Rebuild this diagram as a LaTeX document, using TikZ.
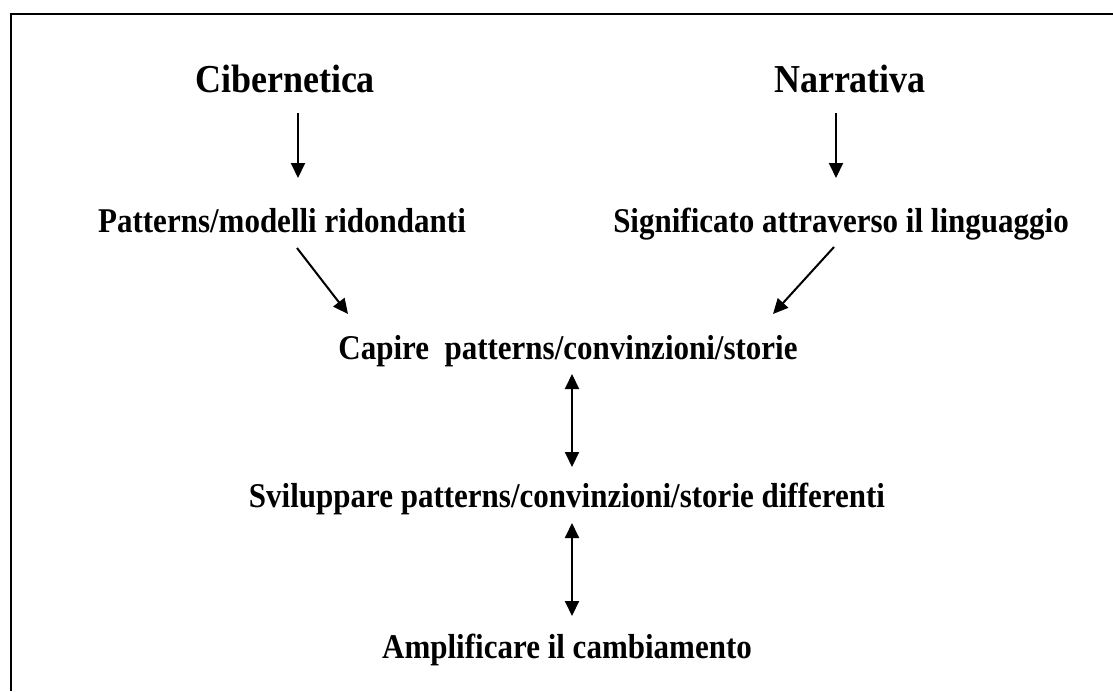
\documentclass[tikz,border=0pt]{standalone}
\usepackage{fontspec}
\setmainfont{Liberation Serif}
\usetikzlibrary{arrows.meta}
\newcommand{\tallA}[1]{\scalebox{1}[1.1]{#1}}
\newcommand{\tallB}[1]{\scalebox{1}[1.12]{#1}}
\tikzset{
  title/.style={anchor=base, inner sep=0pt, font=\bfseries\fontsize{36}{42}\selectfont},
  lbl/.style={anchor=base, inner sep=0pt, font=\bfseries\fontsize{31}{37}\selectfont},
  arr/.style={line width=2pt, -{Triangle[length=15pt,width=14pt]}},
  darr/.style={line width=2pt, {Triangle[length=15pt,width=14pt]}-{Triangle[length=15pt,width=14pt]}},
  frame/.style={line width=2pt}
}
\begin{document}
\begin{tikzpicture}[x=1pt,y=-1pt]
\useasboundingbox (0,0) rectangle (1113,691);
% frame
\coordinate (fr1) at (1113,13.5);
\coordinate (fr2) at (11,13.5);
\coordinate (fr3) at (11,691);
\draw[frame] (fr1) -- (fr2) -- (fr3);
% texts
\node[title] (cib) at (285,92) {\tallA{Cibernetica}};
\node[title] (nar) at (850,92) {\tallA{Narrativa}};
\node[lbl] (pat) at (282,232) {\tallB{Patterns/modelli ridondanti}};
\node[lbl] (sig) at (841,232) {\tallB{Significato attraverso il linguaggio}};
\node[lbl] (cap) at (568,359) {\tallB{Capire\ \ patterns/convinzioni/storie}};
\node[lbl] (svi) at (567,507) {\tallB{Sviluppare patterns/convinzioni/storie differenti}};
\node[lbl] (amp) at (567,658) {\tallB{Amplificare il cambiamento}};
% arrow endpoints
\coordinate (a1s) at (298,113);
\coordinate (a1e) at (298,178);
\coordinate (a2s) at (836,113);
\coordinate (a2e) at (836,178);
\coordinate (a3s) at (297,248);
\coordinate (a3e) at (348,314);
\coordinate (a4s) at (834,247);
\coordinate (a4e) at (773,314);
\coordinate (a5s) at (572,374);
\coordinate (a5e) at (572,467);
\coordinate (a6s) at (572,523);
\coordinate (a6e) at (572,616);
\draw[arr] (a1s) -- (a1e);
\draw[arr] (a2s) -- (a2e);
\draw[arr] (a3s) -- (a3e);
\draw[arr] (a4s) -- (a4e);
\draw[darr] (a5s) -- (a5e);
\draw[darr] (a6s) -- (a6e);
\end{tikzpicture}
\end{document}
